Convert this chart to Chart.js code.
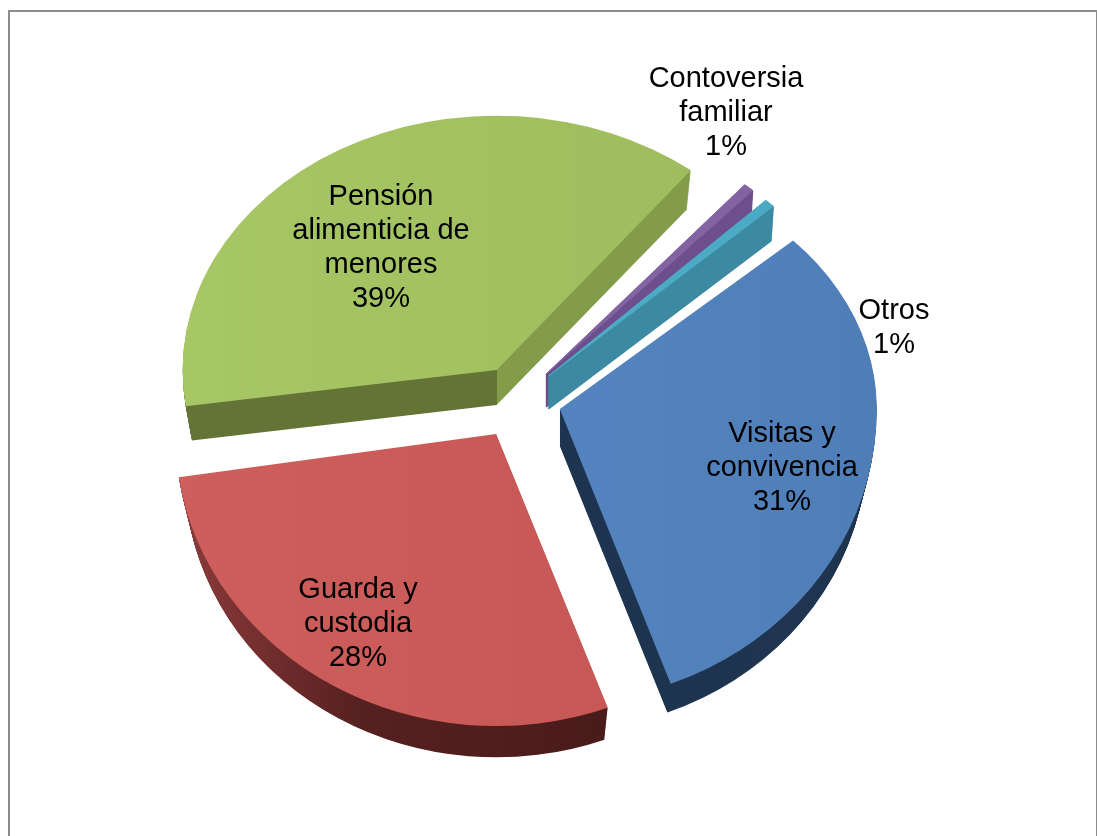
<!DOCTYPE html>
<html><head><meta charset="utf-8">
<style>
html,body{margin:0;padding:0;background:#fff;overflow:hidden;width:1097px;height:836px}
#frame{position:absolute;left:8px;top:10px;width:1086px;height:900px;border:2px solid #8c8c8c;border-bottom:none;pointer-events:none}
canvas{position:absolute;left:0;top:0}
</style>
<script src="https://cdn.jsdelivr.net/npm/chart.js@4"></script>
</head><body>
<canvas id="c" width="1097" height="836"></canvas>
<div id="frame"></div>
<script>
// Data
const categories = ["Visitas y convivencia","Guarda y custodia","Pensión alimenticia de menores","Contoversia familiar","Otros"];
const shareValues = [31.2, 28.3, 38.1, 1.2, 1.2];
const shareLabels = ["31%","28%","39%","1%","1%"];
const sliceColors = ["#5383bf","#c95a58","#a1bf5f","#8264a2","#4cabc6"];

// Styling
const labelLines = [["Visitas y","convivencia","31%"],["Guarda y","custodia","28%"],["Pensión","alimenticia de","menores","39%"],["Contoversia","familiar","1%"],["Otros","1%"]];
const labelCentres = [[782,434],[358,590],[381,197],[726,79],[894,311]];
const topShade = [["#5a8ac8","#4e7db6"],["#ce5f5d","#c35451"],["#a8c766","#9cba5b"],["#8264a2","#8264a2"],["#50afca","#4aa8c3"]];
const ROTATION = 47.3, EXPLODE = 172, RADIUS = 317, K_TOP = 0.80, K_BOT = 0.925;
const sliceRadius = [317,321,314,310,312];
const sliceKTop   = [.785,.80,.81,.795,.785];
const sliceKBot   = [.925,.91,.82,.925,.925];
const sliceDepth  = [37,40,35,33,33];
const sliceShrink = [.03,.03,.02,.01,.01];
const DRAW_ORDER = [3,4,2,0,1];

function wallFill(ctx, i, stopX){
  if(i===2){ const t=stopX/1097; const g=ctx.createLinearGradient(0,0,1097,0);
    g.addColorStop(0,"#637436"); g.addColorStop(t,"#637436"); g.addColorStop(t,"#829c4a"); g.addColorStop(1,"#829c4a"); return g; }
  if(i===1){ const g=ctx.createLinearGradient(185,0,620,0);
    g.addColorStop(0,"#8f3f3e"); g.addColorStop(.18,"#7a3131"); g.addColorStop(.45,"#562120"); g.addColorStop(1,"#4a1b1b"); return g; }
  if(i===0) return "#1f3550";
  if(i===3) return "#6e4f8e";
  return "#3d8aa2";
}

const pie3d = {
  id:"pie3d",
  beforeDatasetDraw(chart){
    const ctx = chart.ctx, arcs = chart.getDatasetMeta(0).data;
    const W = chart.width, H = chart.height;
    for(const i of DRAW_ORDER){
      const arc = arcs[i];
      const mid = (arc.startAngle+arc.endAngle)/2, off = arc.options.offset/4;
      const ly = arc.y+Math.sin(mid)*off;
      const k0 = Math.sin(mid)<0 ? K_TOP : K_BOT;
      const ay = Math.round(arc.y+(ly-arc.y)*k0);
      // Chart.js widens an offset arc by offset*(1-sin(sweep)); take that back out.
      const sweep = arc.endAngle-arc.startAngle;
      const grow = off*(1-Math.sin(Math.min(Math.PI,sweep)));
      const grad = ctx.createLinearGradient(0,0,W,0);
      grad.addColorStop(.15,topShade[i][0]); grad.addColorStop(.8,topShade[i][1]);
      const paint = (z,fill,bw)=>{
        const r = sliceRadius[i]*(1-sliceShrink[i]*z/sliceDepth[i])-grow;
        const p = Object.create(arc,{
          options:{value:Object.assign({},arc.options,{backgroundColor:fill,borderColor:fill,borderWidth:bw})},
          outerRadius:{value:r,writable:true}
        });
        const seam = ay+z;
        [[0,seam,sliceKTop[i]],[seam,H-seam,sliceKBot[i]]].forEach(([y0,h,k])=>{
          ctx.save();
          ctx.beginPath(); ctx.rect(0,y0,W,h); ctx.clip();
          ctx.translate(0,seam); ctx.scale(1,k); ctx.translate(0,-ly);
          p.draw(ctx);
          ctx.restore();
        });
      };
      const wf = wallFill(ctx,i,arc.x);
      for(let z=sliceDepth[i];z>=1;z--) paint(z,wf,i>2?1.5:0);
      paint(0,grad,i>2?1:0);
    }
    return false;
  },
  afterDatasetsDraw(chart){
    const ctx = chart.ctx;
    ctx.save();
    ctx.fillStyle="#000"; ctx.textAlign="center"; ctx.textBaseline="middle";
    ctx.font='29px "Liberation Sans", Arial, sans-serif';
    labelLines.forEach((ls,i)=>ls.forEach((t,j)=>ctx.fillText(t,labelCentres[i][0],labelCentres[i][1]+j*34)));
    ctx.restore();
  }
};

new Chart(document.getElementById("c"),{
  type:"pie",
  data:{labels:categories,datasets:[{data:shareValues,backgroundColor:sliceColors,borderWidth:0,offset:EXPLODE,radius:RADIUS}]},
  options:{
    responsive:false,animation:false,rotation:ROTATION,
    layout:{padding:{left:0,top:0,right:61,bottom:36}},
    plugins:{legend:{display:false},tooltip:{enabled:false}}
  },
  plugins:[pie3d]
});
</script>
</body></html>
